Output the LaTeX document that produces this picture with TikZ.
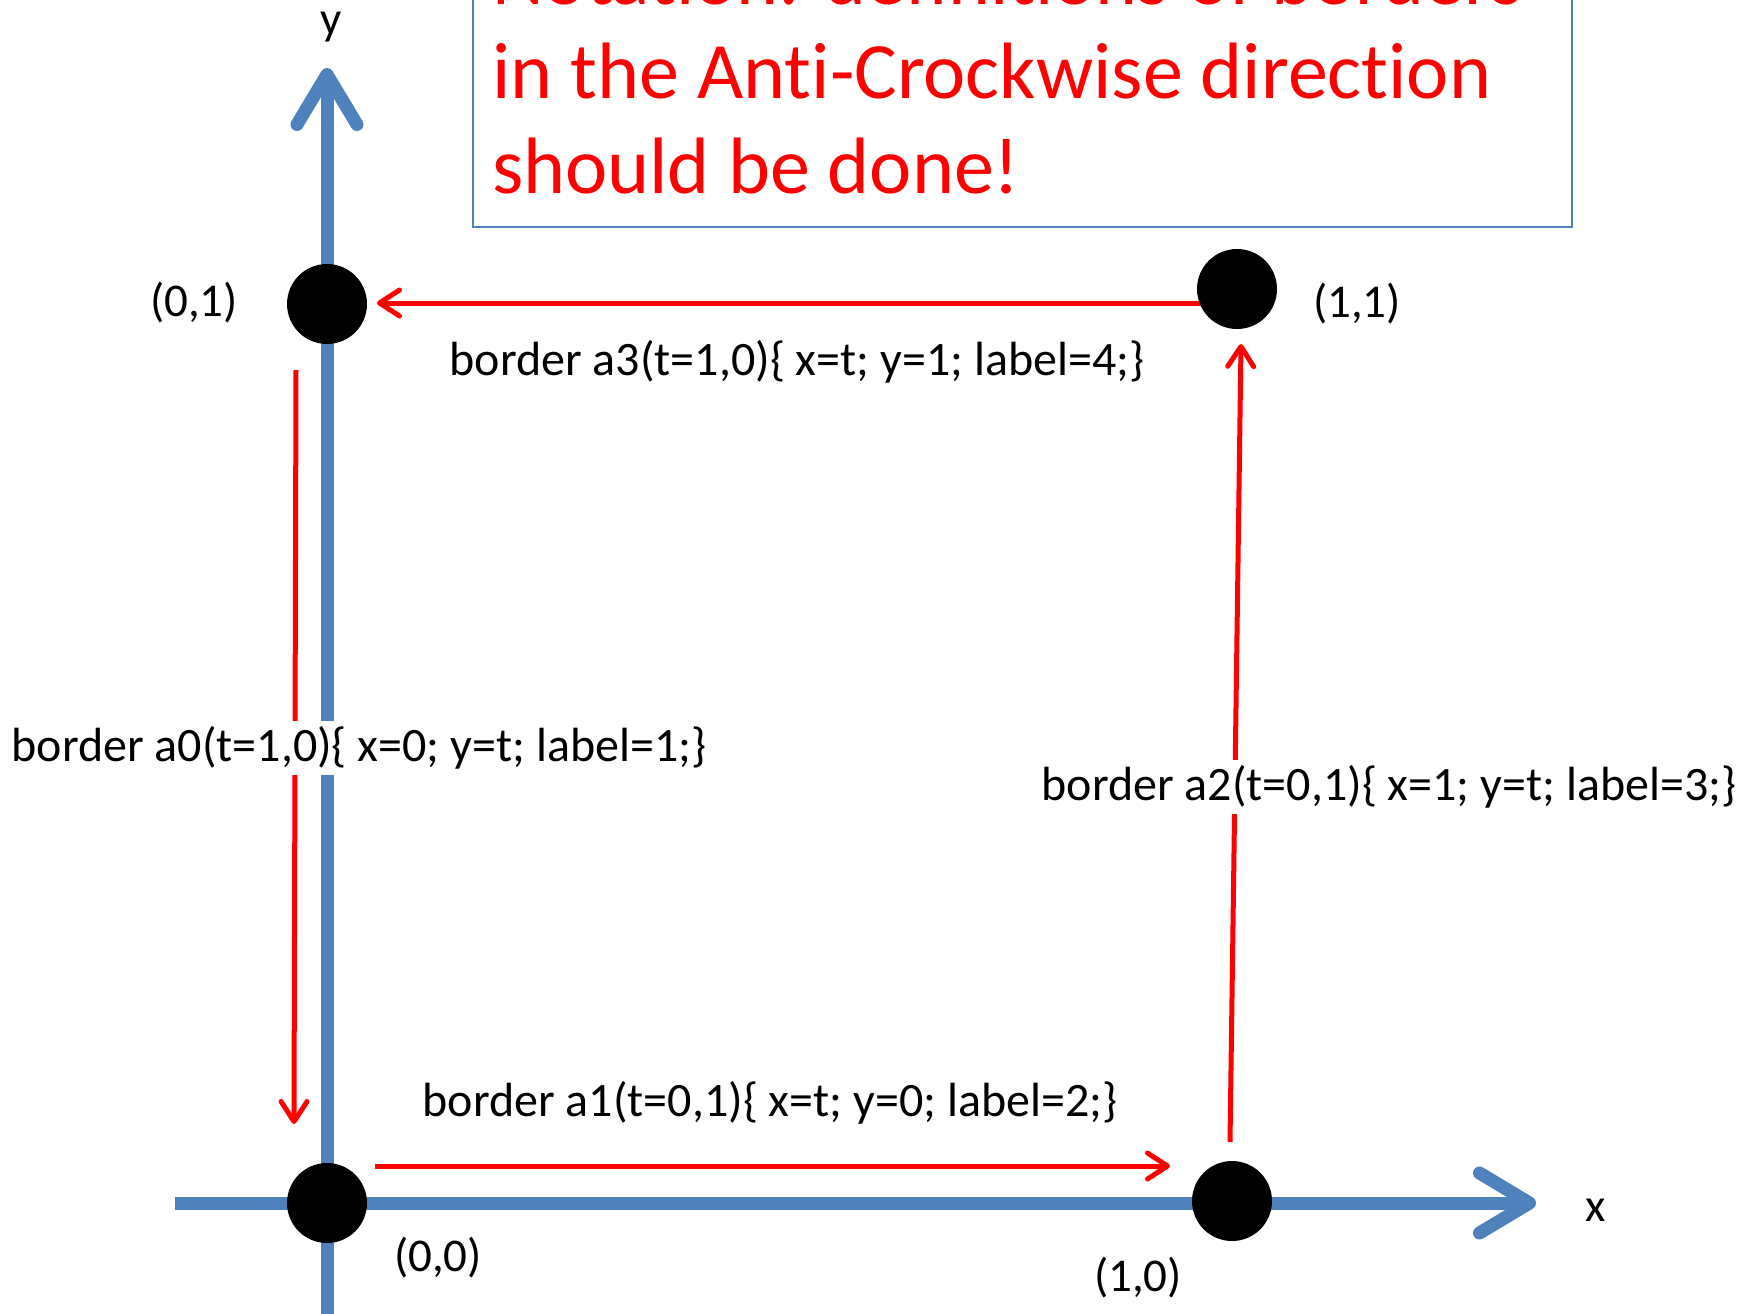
\documentclass[tikz,border=0pt]{standalone}
\usepackage{fontspec}
\setmainfont{Carlito}[Ligatures=NoCommon]
\usetikzlibrary{arrows.meta}
\definecolor{axisblue}{RGB}{79,129,189}
\begin{document}
\begin{tikzpicture}[x=1pt,y=-1pt,
  axis/.style={draw=axisblue,line width=13pt,-{Straight Barb[length=50pt,width=60pt,line cap=round,round]}},
  redarrow/.style={draw=red,line width=5pt,-{Straight Barb[length=20pt,width=26pt,line cap=round,round]}},
  dot/.style={circle,fill=black,minimum size=80pt,inner sep=0pt},
  coordlbl/.style={font=\fontsize{47}{56}\selectfont,inner sep=0pt},
  borderlbl/.style={font=\fontsize{48}{58}\selectfont,fill=white,inner sep=6pt},
  notelbl/.style={font=\fontsize{80}{94}\selectfont,text=red,inner sep=0pt,anchor=base west},
  notebox/.style={draw=axisblue,line width=2pt}
]
\path[use as bounding box,clip] (0,0) rectangle (1756,1314);
\fill[white] (0,0) rectangle (1756,1314);

% note box
\draw[notebox] (473,-60) rectangle (1572,227);
\node[notelbl] (n1) at (492,5) {Notation: definitions of borders};
\node[notelbl] (n2) at (492,99) {in the Anti-Crockwise direction};
\node[notelbl] (n3) at (492,193) {should be done!};

% axes
\coordinate (ybot) at (327,1330);
\coordinate (ytop) at (327,68);
\coordinate (xleft) at (175,1203);
\coordinate (xright) at (1536,1203);
\draw[axis] (ybot) -- (ytop);
\draw[axis] (xleft) -- (xright);
\node[coordlbl] (ylbl) at (331,27) {y};
\node[coordlbl] (xlbl) at (1596,1210) {x};

% red border arrows
\coordinate (a3s) at (1205,303);
\coordinate (a3e) at (377,303);
\coordinate (a0s) at (296,370);
\coordinate (a0e) at (294,1124);
\coordinate (a1s) at (375,1166);
\coordinate (a1e) at (1170,1166);
\coordinate (a2s) at (1230,1142);
\coordinate (a2e) at (1241,344);
\draw[redarrow] (a3s) -- (a3e);
\draw[redarrow] (a0s) -- (a0e);
\draw[redarrow] (a1s) -- (a1e);
\draw[redarrow] (a2s) -- (a2e);

% dots
\node[dot] (p01) at (327,304) {};
\node[dot] (p11) at (1237,289) {};
\node[dot] (p00) at (327,1203) {};
\node[dot] (p10) at (1232,1201) {};

% coordinate labels
\node[coordlbl] (l01) at (194,303) {(0,1)};
\node[coordlbl] (l11) at (1357,304) {(1,1)};
\node[coordlbl] (l00) at (438,1258) {(0,0)};
\node[coordlbl] (l10) at (1138,1278) {(1,0)};

% border labels
\node[borderlbl] (b0) at (359,748) {border a0(t=1,0)\{ x=0; y=t; label=1;\}};
\node[borderlbl] (b1) at (770,1103) {border a1(t=0,1)\{ x=t; y=0; label=2;\}};
\node[borderlbl] (b2) at (1389,787) {border a2(t=0,1)\{ x=1; y=t; label=3;\}};
\node[borderlbl] (b3) at (797,362) {border a3(t=1,0)\{ x=t; y=1; label=4;\}};
\end{tikzpicture}
\end{document}
